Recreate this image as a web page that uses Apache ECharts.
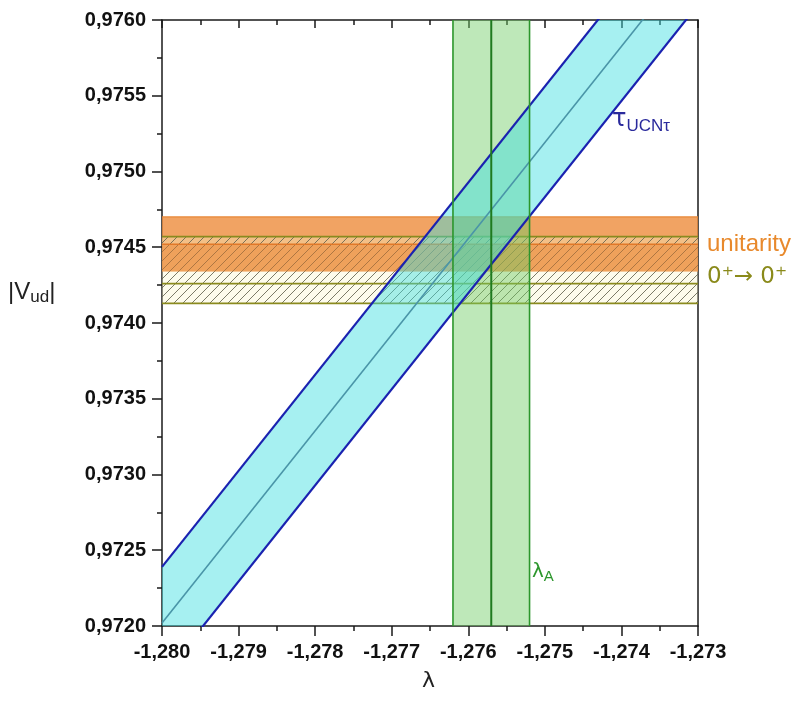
<!DOCTYPE html>
<html>
<head>
<meta charset="utf-8">
<script src="https://cdn.jsdelivr.net/npm/echarts@6/dist/echarts.min.js"></script>
<style>html,body{margin:0;padding:0;background:#fff}#c{width:798px;height:704px}</style>
</head>
<body>
<div id="c"></div>
<script>
// ---- data ----
const xTicks = [-1.280, -1.279, -1.278, -1.277, -1.276, -1.275, -1.274, -1.273];
const yTicks = [0.9720, 0.9725, 0.9730, 0.9735, 0.9740, 0.9745, 0.9750, 0.9755, 0.9760];
const tauLambda = [-1.280, -1.273];
const tauUpper  = [0.97239, 0.97683];
const tauCenter = [0.97202, 0.97646];
const tauLower  = [0.97166, 0.97610];
const lambdaA = [-1.2762, -1.2757, -1.2752];           // low, central, high
const unitarity = [0.97434, 0.97470];                  // band
const unitarityInner = [0.97434, 0.97452];             // darker inner part
const superallowed = [0.97413, 0.97457];               // 0+ -> 0+ hatched band
const superallowedLine = [0.97426];

const fmtX = v => v.toFixed(3).replace('.', ',');
const fmtY = v => v.toFixed(4).replace('.', ',');

function hatchCanvas() {
  const s = 9;
  const c = document.createElement('canvas');
  c.width = s; c.height = s;
  const g = c.getContext('2d');
  g.fillStyle = 'rgba(250,244,200,0.35)';
  g.fillRect(0, 0, s, s);
  g.strokeStyle = 'rgba(100,100,80,0.85)';
  g.lineWidth = 1;
  g.beginPath();
  g.moveTo(-1, s + 1); g.lineTo(s + 1, -1);
  g.moveTo(-1, 1); g.lineTo(1, -1);
  g.moveTo(s - 1, s + 1); g.lineTo(s + 1, s - 1);
  g.stroke();
  return c;
}

// horizontal band across the whole grid, in y data units
function hBand(lo, hi, style, z) {
  return {type: 'custom', silent: true, z: z, clip: true, data: [[lo, hi]],
    renderItem: (params, api) => {
      const cs = params.coordSys;
      const y1 = api.coord([0, api.value(1)])[1], y0 = api.coord([0, api.value(0)])[1];
      return {type: 'rect', shape: {x: cs.x, y: y1, width: cs.width, height: y0 - y1}, style: style};
    }};
}
// horizontal lines across the whole grid
function hLines(vals, stroke, width, z) {
  return {type: 'custom', silent: true, z: z, clip: true, data: vals.map(v => [v]),
    renderItem: (params, api) => {
      const cs = params.coordSys;
      const y = api.coord([0, api.value(0)])[1];
      return {type: 'line', shape: {x1: cs.x, y1: y, x2: cs.x + cs.width, y2: y}, style: {stroke: stroke, lineWidth: width}};
    }};
}
// vertical band / lines
function vBand(lo, hi, style, z) {
  return {type: 'custom', silent: true, z: z, clip: true, data: [[lo, hi]],
    renderItem: (params, api) => {
      const cs = params.coordSys;
      const x0 = api.coord([api.value(0), 0.974])[0], x1 = api.coord([api.value(1), 0.974])[0];
      return {type: 'rect', shape: {x: x0, y: cs.y, width: x1 - x0, height: cs.height}, style: style};
    }};
}
function vLines(vals, stroke, width, z) {
  return {type: 'custom', silent: true, z: z, clip: true, data: vals.map(v => [v]),
    renderItem: (params, api) => {
      const cs = params.coordSys;
      const x = api.coord([api.value(0), 0.974])[0];
      return {type: 'line', shape: {x1: x, y1: cs.y, x2: x, y2: cs.y + cs.height}, style: {stroke: stroke, lineWidth: width}};
    }};
}

const chart = echarts.init(document.getElementById('c'), null, {renderer: 'canvas'});
const labelFont = {fontFamily: 'Liberation Sans, Arial, sans-serif', fontWeight: 'bold', fontSize: 20, color: '#111'};
const axisLine = {show: true, lineStyle: {color: '#1a1a1a', width: 1.5}};

const option = {
  animation: false,
  grid: {left: 162, right: 100, top: 20, bottom: 78, containLabel: false},
  xAxis: [
    {type: 'value', min: -1.280, max: -1.273, interval: 0.001, position: 'bottom',
     axisLine, splitLine: {show: false},
     axisTick: {show: true, inside: false, length: 10, lineStyle: {color: '#1a1a1a', width: 1.5}},
     minorTick: {show: true, splitNumber: 2, length: 5, lineStyle: {color: '#1a1a1a', width: 1.5}},
     axisLabel: Object.assign({margin: 16, formatter: fmtX}, labelFont)},
    {type: 'value', min: -1.280, max: -1.273, interval: 0.001, position: 'top',
     axisLine, splitLine: {show: false},
     axisTick: {show: true, inside: true, length: 8, lineStyle: {color: '#1a1a1a', width: 1.5}},
     minorTick: {show: true, splitNumber: 2, length: 5, lineStyle: {color: '#1a1a1a', width: 1.5}},
     axisLabel: {show: false}}
  ],
  yAxis: [
    {type: 'value', min: 0.9720, max: 0.9760, interval: 0.0005, position: 'left',
     axisLine, splitLine: {show: false},
     axisTick: {show: true, inside: false, length: 10, lineStyle: {color: '#1a1a1a', width: 1.5}},
     minorTick: {show: true, splitNumber: 2, length: 5, lineStyle: {color: '#1a1a1a', width: 1.5}},
     axisLabel: Object.assign({margin: 16, formatter: fmtY}, labelFont)},
    {type: 'value', min: 0.9720, max: 0.9760, interval: 0.0005, position: 'right',
     axisLine, splitLine: {show: false}, axisTick: {show: false}, axisLabel: {show: false}}
  ],
  series: [
    hBand(unitarity[0], unitarity[1], {fill: 'rgba(238,140,60,0.8)'}, 1),
    hBand(superallowed[0], superallowed[1], {fill: {image: hatchCanvas(), repeat: 'repeat'}}, 2),
    hBand(unitarityInner[0], unitarityInner[1], {fill: 'rgba(235,125,40,0.45)'}, 3),
    hLines([unitarity[1]], 'rgba(232,135,55,1)', 1.2, 4),
    hLines([unitarityInner[1]], 'rgba(225,120,40,1)', 1.5, 4),
    hLines([superallowed[0], superallowed[1], superallowedLine[0]], '#8a8a1e', 1.8, 4),
    vBand(lambdaA[0], lambdaA[2], {fill: 'rgba(110,205,100,0.45)'}, 5),
    // tau band (filled polygon between upper and lower lines)
    {type: 'custom', silent: true, z: 6, clip: true,
     data: tauLambda.map((x, i) => [x, tauLower[i], tauUpper[i]]),
     renderItem: (params, api) => {
       if (params.dataIndex !== 0) return null;
       const pts = [];
       for (let i = 0; i < tauLambda.length; i++) pts.push(api.coord([tauLambda[i], tauUpper[i]]));
       for (let i = tauLambda.length - 1; i >= 0; i--) pts.push(api.coord([tauLambda[i], tauLower[i]]));
       return {type: 'polygon', shape: {points: pts}, style: {fill: 'rgba(60,222,225,0.46)'}};
     }},
    {type: 'line', name: 'tauLower', showSymbol: false, z: 7, silent: true,
     data: tauLambda.map((x, i) => [x, tauLower[i]]),
     lineStyle: {color: '#1a22b0', width: 2.2}},
    {type: 'line', name: 'tauUpper', showSymbol: false, z: 7, silent: true,
     data: tauLambda.map((x, i) => [x, tauUpper[i]]),
     lineStyle: {color: '#1a22b0', width: 2.2}},
    {type: 'line', name: 'tauCenter', showSymbol: false, z: 7, silent: true,
     data: tauLambda.map((x, i) => [x, tauCenter[i]]),
     lineStyle: {color: '#4a95a8', width: 1.6}},
    vLines([lambdaA[0], lambdaA[2]], '#2c962c', 1.6, 8),
    vLines([lambdaA[1]], '#1f7a1f', 2, 8)
  ],
  graphic: [
    {type: 'text', left: 8, top: 280, z: 50, style: {text: '|V{s|ud}|', fill: '#222',
      font: '24px Liberation Sans, Arial, sans-serif',
      rich: {s: {fontSize: 17, fill: '#222', padding: [11, 0, 0, 0], fontFamily: 'Liberation Sans, Arial, sans-serif'}}}},
    {type: 'text', left: 422, top: 670, z: 50, style: {text: 'λ', fill: '#222',
      font: '22px DejaVu Sans, sans-serif'}},
    {type: 'text', left: 612, top: 108, z: 50, style: {text: 'τ{s|UCNτ}', fill: '#2a2a9c',
      font: '24px DejaVu Sans, sans-serif',
      rich: {s: {fontSize: 17, fill: '#2a2a9c', padding: [13, 0, 0, 0], fontFamily: 'Liberation Sans, Arial, sans-serif'}}}},
    {type: 'text', left: 707, top: 232, z: 50, style: {text: 'unitarity', fill: '#e8892c',
      font: '24px Liberation Sans, Arial, sans-serif'}},
    {type: 'text', left: 707, top: 266, z: 50, style: {text: '0⁺→ 0⁺', fill: '#8a8a1a',
      font: '23px DejaVu Sans, sans-serif'}},
    {type: 'text', left: 532, top: 562, z: 50, style: {text: 'λ{s|A}', fill: '#2c962c',
      font: '20px DejaVu Sans, sans-serif',
      rich: {s: {fontSize: 15, fill: '#2c962c', padding: [10, 0, 0, 0], fontFamily: 'Liberation Sans, Arial, sans-serif'}}}}
  ]
};
chart.setOption(option);
</script>
</body>
</html>
